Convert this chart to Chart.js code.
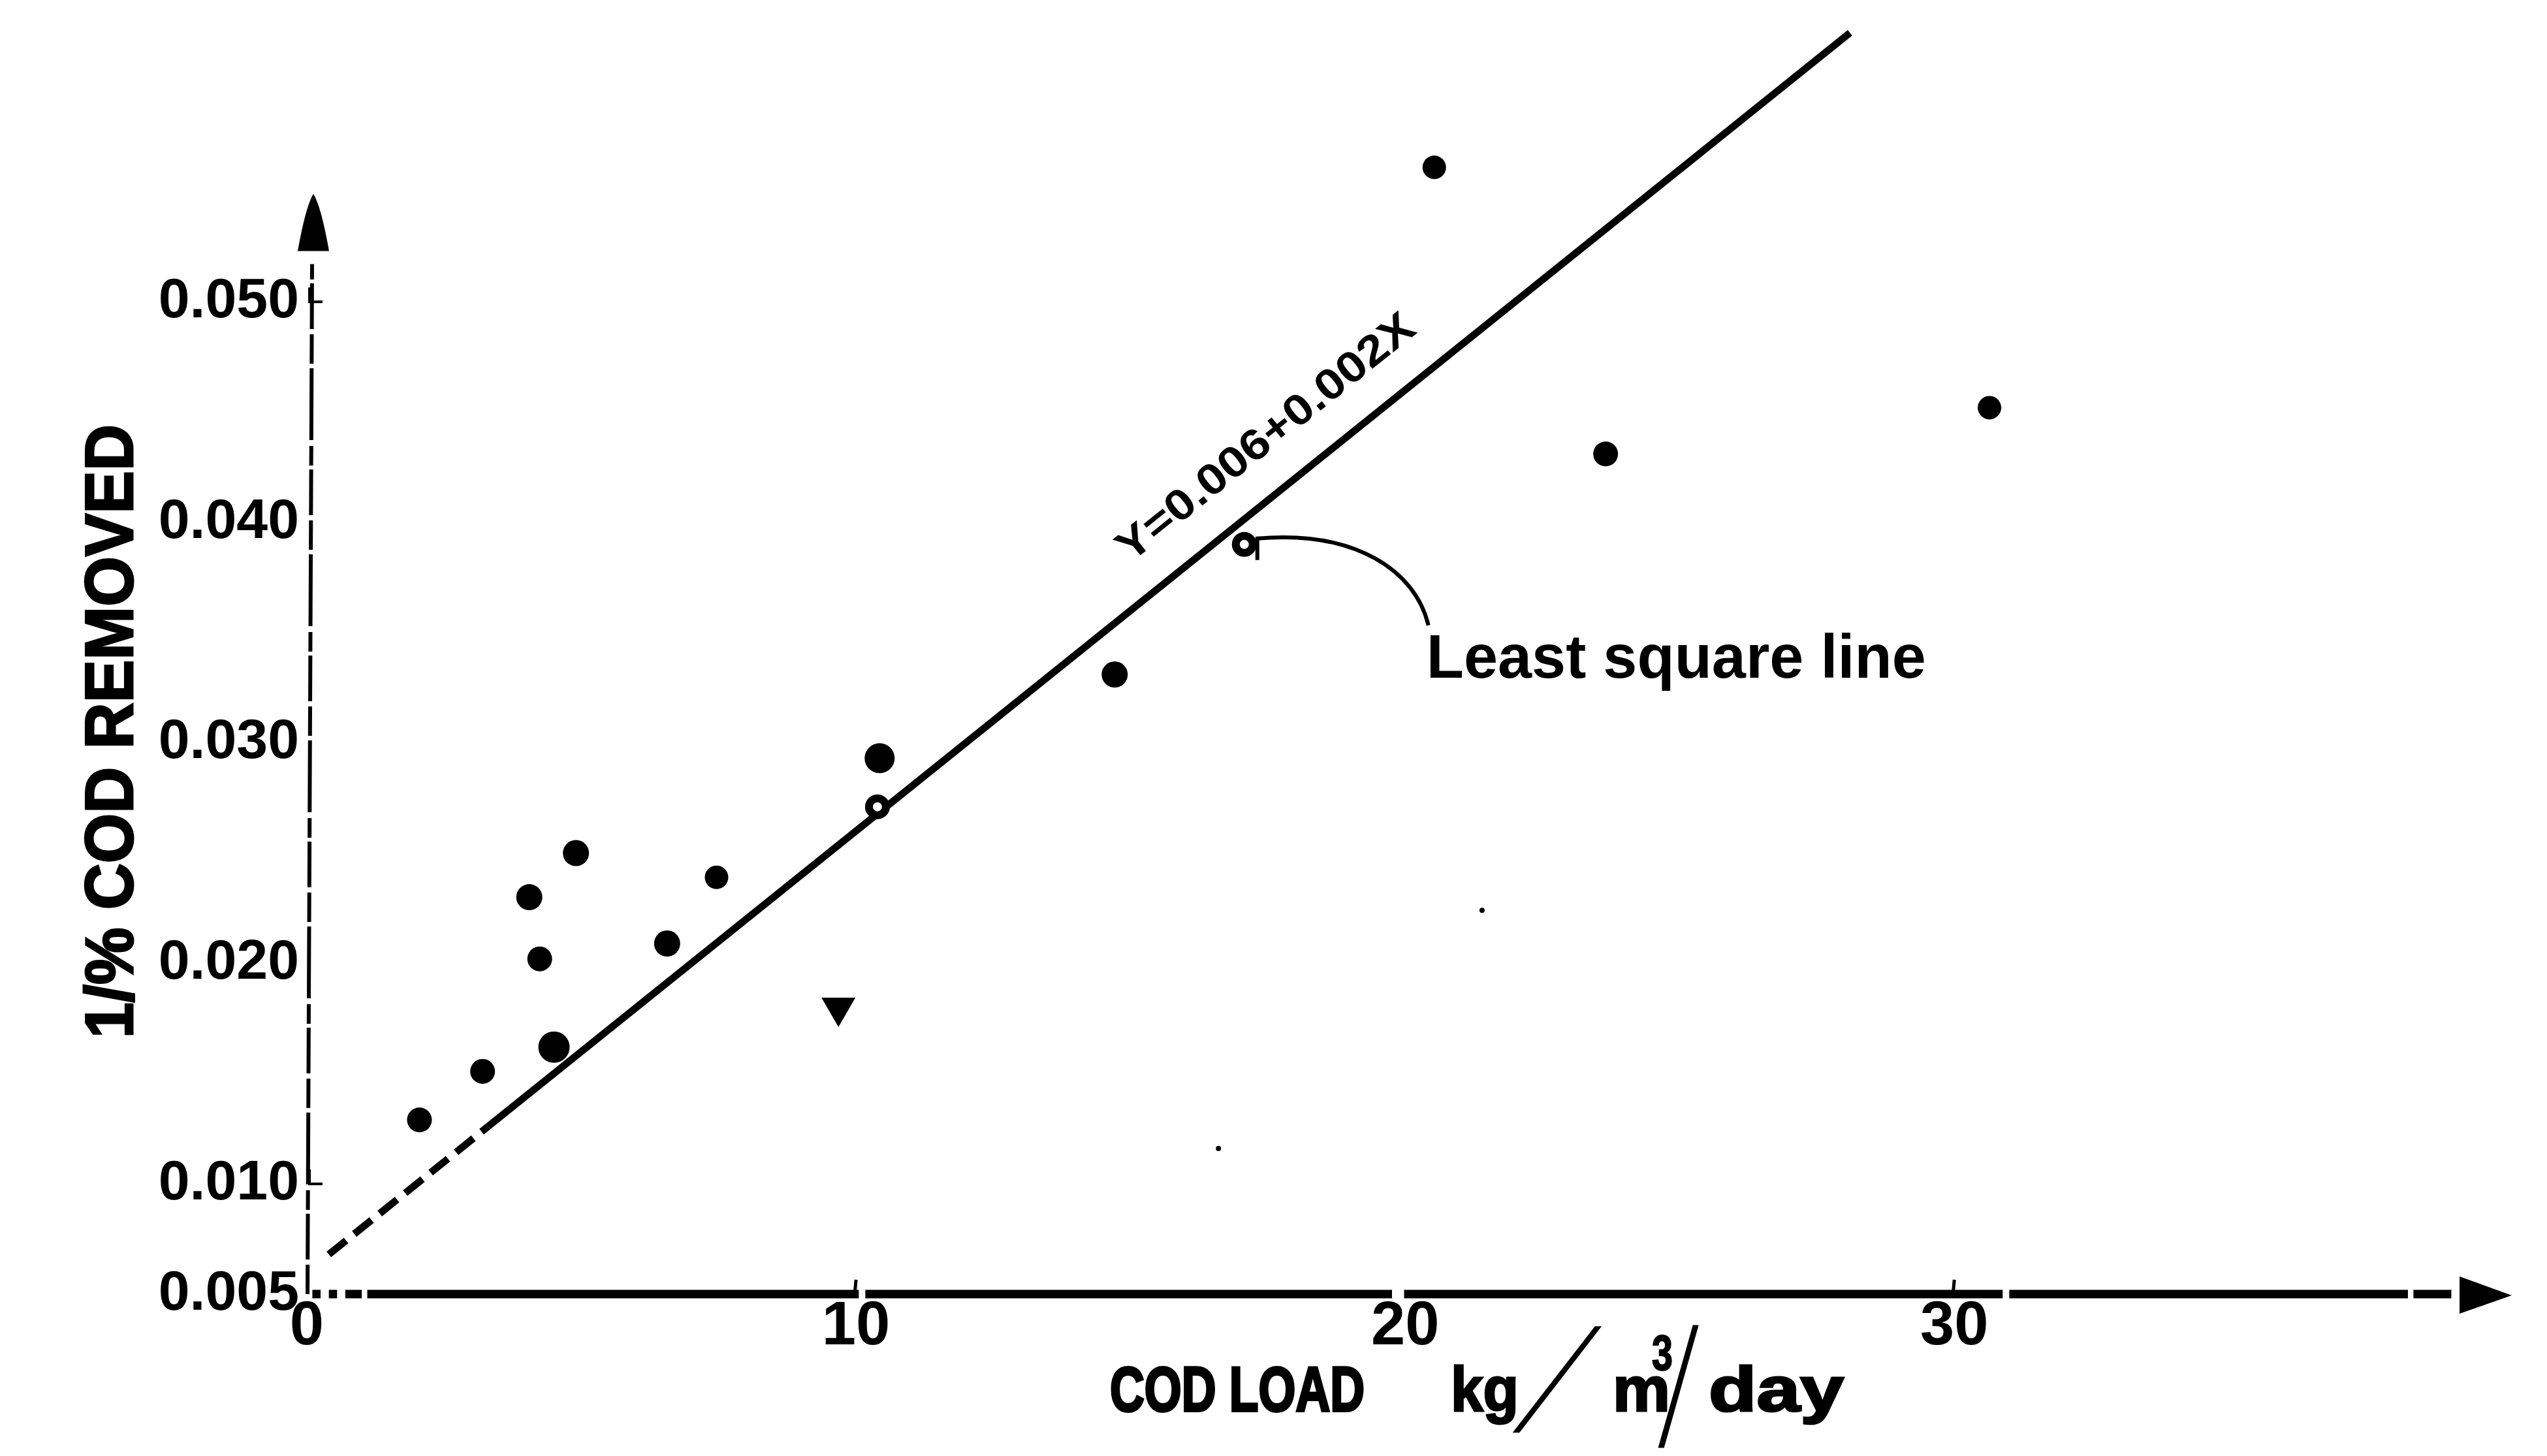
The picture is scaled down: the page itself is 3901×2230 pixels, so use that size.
<!DOCTYPE html>
<html>
<head>
<meta charset="utf-8">
<script src="https://cdn.jsdelivr.net/npm/chart.js@4.4.1/dist/chart.umd.min.js"></script>
<style>
    html, body {margin: 0; padding: 0; background: #fff;}
    #wrap {width: 3901px; height: 2230px;}
</style>
</head>
<body>
<div id="wrap"><canvas id="codChart"></canvas></div>
<script>
//Measured points, COD load (kg/m3/day) vs 1/% COD removed
const loadX = [2.05, 3.20, 4.05, 4.24, 4.50, 4.90, 6.56, 7.46, 9.68, 10.43, 14.71, 20.53, 23.65, 30.64];
const removedY = [0.0129, 0.0151, 0.0230, 0.0202, 0.0162, 0.0250, 0.0209, 0.0239, 0.0180, 0.0293, 0.0331, 0.0561, 0.0431, 0.0452];

//Open circles sitting on the least square line
const openX = [10.39, 17.07];
const openY = [0.0271, 0.0390];

//Small specks on the scan
const speckX = [16.6, 21.4];
const speckY = [0.0116, 0.0224];

//Least square line Y = 0.006 + 0.002X
const fitX = [0.4, 3.3, 28.1];
const fitY = [0.0068, 0.0126, 0.0622];

//Axis ticks
const xTickValues = [0, 10, 20, 30];
const xTickLabels = ['0', '10', '20', '30'];
const yTickValues = [0.005, 0.010, 0.020, 0.030, 0.040, 0.050];
const yTickLabels = ['0.005', '0.010', '0.020', '0.030', '0.040', '0.050'];

const FONT = "'Liberation Sans', 'DejaVu Sans', sans-serif";

function toPoints(xs, ys) {
    return xs.map((x, i) => ({x: x, y: ys[i]}));
}

//draws text squeezed or stretched to a given width, heavy adds an outline
function fitText(ctx, s, x, y, font, width, heavy) {
    ctx.font = font;
    const w = ctx.measureText(s).width;
    ctx.save();
    ctx.translate(x, y);
    ctx.scale(width / w, 1);
    ctx.fillText(s, 0, 0);
    if (heavy) {
        ctx.lineWidth = heavy;
        ctx.strokeText(s, 0, 0);
    }
    ctx.restore();
}

//a big hand written slash, thinned by sx and leaned over by skew
function slash(ctx, x, y, size, sx, skew) {
    ctx.save();
    ctx.translate(x, y);
    ctx.transform(sx, 0, -skew, 1, 0, 0);
    ctx.font = 'normal ' + size + 'px ' + FONT;
    ctx.fillText('/', 0, 0);
    ctx.restore();
}

//Hand drawn axes with arrow heads
const axesPlugin = {
    id: 'axes',
    beforeDatasetsDraw(chart) {
        const ctx = chart.ctx;
        const xs = chart.scales.x;
        const ys = chart.scales.y;
        const x0 = xs.getPixelForValue(0);
        const y0 = ys.getPixelForValue(0.005);
        ctx.save();
        ctx.strokeStyle = '#000';
        ctx.fillStyle = '#000';

        //y axis
        const yTop = ys.getPixelForValue(0.0523);
        const yTip = ys.getPixelForValue(0.0549);
        ctx.lineWidth = 6;
        ctx.setLineDash([45, 8, 70, 6, 30, 9, 110, 7]);
        ctx.beginPath();
        ctx.moveTo(x0 + 1, y0);
        ctx.lineTo(x0 + 8, yTop + 20);
        ctx.stroke();
        ctx.setLineDash([]);
        ctx.beginPath();
        ctx.moveTo(x0 + 10, yTip);
        ctx.quadraticCurveTo(x0 + 22, yTip + 20, x0 + 34, yTop);
        ctx.lineTo(x0 - 14, yTop);
        ctx.quadraticCurveTo(x0 - 2, yTip + 20, x0 + 10, yTip);
        ctx.fill();

        //little L shaped ticks on the y axis
        ctx.lineWidth = 4;
        [0.050, 0.010].forEach(v => {
            const p = ys.getPixelForValue(v);
            ctx.beginPath();
            ctx.moveTo(x0 + 4, p - 22);
            ctx.lineTo(x0 + 4, p);
            ctx.lineTo(x0 + 24, p);
            ctx.stroke();
        });

        //x axis, a drawn line with a few breaks
        const pieces = [[0.1, 0.25], [0.4, 0.55], [0.7, 1.0], [1.1, 10.05], [10.17, 19.76], [19.98, 30.88], [31.0, 38.26], [38.36, 39.05]];
        ctx.lineWidth = 13;
        pieces.forEach(p => {
            ctx.beginPath();
            ctx.moveTo(xs.getPixelForValue(p[0]), y0);
            ctx.lineTo(xs.getPixelForValue(p[1]), y0);
            ctx.stroke();
        });
        const xEnd = xs.getPixelForValue(39.2);
        const xTip = xs.getPixelForValue(40.15);
        ctx.beginPath();
        ctx.moveTo(xEnd, y0 - 27);
        ctx.lineTo(xTip, y0 + 2);
        ctx.lineTo(xEnd, y0 + 30);
        ctx.closePath();
        ctx.fill();

        //tiny ticks at 10 and 30
        ctx.lineWidth = 5;
        [10, 30].forEach(v => {
            const p = xs.getPixelForValue(v);
            ctx.beginPath();
            ctx.moveTo(p - 2, y0);
            ctx.lineTo(p, y0 - 22);
            ctx.stroke();
        });
        ctx.restore();
    },

    afterDatasetsDraw(chart) {
        const ctx = chart.ctx;
        const xs = chart.scales.x;
        const ys = chart.scales.y;
        ctx.save();
        ctx.fillStyle = '#000';
        ctx.strokeStyle = '#000';

        //axis titles
        ctx.textAlign = 'left';
        ctx.textBaseline = 'alphabetic';
        fitText(ctx, 'COD LOAD', 1700, 2161, 'bold 97px ' + FONT, 390, 4);
        fitText(ctx, 'kg', 2222, 2161, 'bold 97px ' + FONT, 104, 3);
        slash(ctx, 2318, 2192, 222, 0.6, 0.61);
        fitText(ctx, 'm', 2470, 2161, 'bold 97px ' + FONT, 88, 3);
        fitText(ctx, '3', 2530, 2098, 'bold 76px ' + FONT, 32, 2);
        slash(ctx, 2540, 2215, 256, 0.45, 0.16);
        fitText(ctx, 'day', 2617, 2161, 'bold 97px ' + FONT, 207, 3);

        ctx.save();
        ctx.translate(203, 1590);
        ctx.rotate(-Math.PI / 2);
        fitText(ctx, '1/% COD REMOVED', 0, 0, 'bold 104px ' + FONT, 940, 3);
        ctx.restore();

        //equation along the least square line
        const ax = xs.getPixelForValue(fitX[1]);
        const ay = ys.getPixelForValue(fitY[1]);
        const bx = xs.getPixelForValue(fitX[2]);
        const by = ys.getPixelForValue(fitY[2]);
        const angle = Math.atan2(by - ay, bx - ax);
        ctx.save();
        ctx.translate(xs.getPixelForValue(17.48), ys.getPixelForValue(0.0438));
        ctx.rotate(angle);
        ctx.textAlign = 'center';
        ctx.textBaseline = 'middle';
        fitText(ctx, 'Y=0.006+0.002X', 0, 0, 'bold 66px ' + FONT, 565);
        ctx.restore();

        //pointer to the line
        const mx = xs.getPixelForValue(openX[1]);
        const my = ys.getPixelForValue(openY[1]);
        ctx.lineWidth = 6;
        ctx.beginPath();
        ctx.moveTo(mx + 20, my + 24);
        ctx.lineTo(mx + 20, my - 9);
        ctx.bezierCurveTo(mx + 170, my - 22, mx + 262, my + 40, mx + 282, my + 124);
        ctx.stroke();

        ctx.textAlign = 'left';
        ctx.textBaseline = 'alphabetic';
        fitText(ctx, 'Least square line', mx + 279, my + 204, 'bold 95px ' + FONT, 765);
        ctx.restore();
    }
};

const codChart = new Chart(document.getElementById('codChart'), {
    type: 'scatter',
    data: {
        datasets: [{
            label: 'Least square line',
            type: 'line',
            data: toPoints(fitX, fitY),
            borderColor: '#000',
            borderWidth: 11,
            pointRadius: 0,
            fill: false,
            tension: 0,
            order: 3,
            segment: {
                borderDash: ctx => ctx.p0DataIndex === 0 ? [34, 16] : undefined,
            },
        }, {
            label: 'Measured',
            data: toPoints(loadX, removedY),
            backgroundColor: '#000',
            borderColor: '#000',
            borderWidth: [0, 0, 0, 0, 0, 0, 0, 0, 7, 0, 0, 0, 0, 0],
            pointRadius: [19, 19, 20, 19, 24, 20, 20, 18, 23, 23, 20, 18, 19, 18],
            pointStyle: ['circle', 'circle', 'circle', 'circle', 'circle', 'circle', 'circle', 'circle', 'triangle', 'circle', 'circle', 'circle', 'circle', 'circle'],
            pointRotation: [0, 0, 0, 0, 0, 0, 0, 0, 180, 0, 0, 0, 0, 0],
            order: 1,
        }, {
            label: 'On line',
            data: toPoints(openX, openY),
            backgroundColor: '#fff',
            borderColor: '#000',
            borderWidth: 12,
            pointRadius: 13,
            order: 1,
        }, {
            label: 'Specks',
            data: toPoints(speckX, speckY),
            backgroundColor: '#000',
            borderWidth: 0,
            pointRadius: 4,
            order: 1,
        }]
    },
    options: {
        responsive: true,
        maintainAspectRatio: false,
        animation: false,
        layout: {padding: {left: 0, right: 33, top: 10, bottom: 0}},
        plugins: {
            legend: {display: false},
            tooltip: {enabled: false},
        },
        scales: {
            x: {
                type: 'linear',
                min: 0,
                max: 40.4,
                grid: {display: false, drawTicks: false},
                border: {display: false},
                afterBuildTicks: axis => { axis.ticks = xTickValues.map(v => ({value: v})); },
                afterFit: axis => {
                    axis.height = 248;
                    axis.paddingLeft = 0;
                    axis.paddingRight = 0;
                },
                ticks: {
                    color: '#000',
                    padding: 4,
                    maxRotation: 0,
                    font: {family: FONT, weight: 'bold', size: 94, lineHeight: 1},
                    callback: (value, index) => xTickLabels[index],
                },
            },
            y: {
                type: 'linear',
                min: 0.005,
                max: 0.0628,
                grid: {display: false, drawTicks: false},
                border: {display: false},
                afterBuildTicks: axis => { axis.ticks = yTickValues.map(v => ({value: v})); },
                afterFit: axis => {
                    axis.width = 470;
                    axis.paddingTop = 0;
                    axis.paddingBottom = 0;
                },
                ticks: {
                    color: '#000',
                    padding: 12,
                    font: {family: FONT, weight: 'bold', size: 86},
                    callback: (value, index) => yTickLabels[index],
                },
            },
        },
    },
    plugins: [axesPlugin],
});
</script>
</body>
</html>
